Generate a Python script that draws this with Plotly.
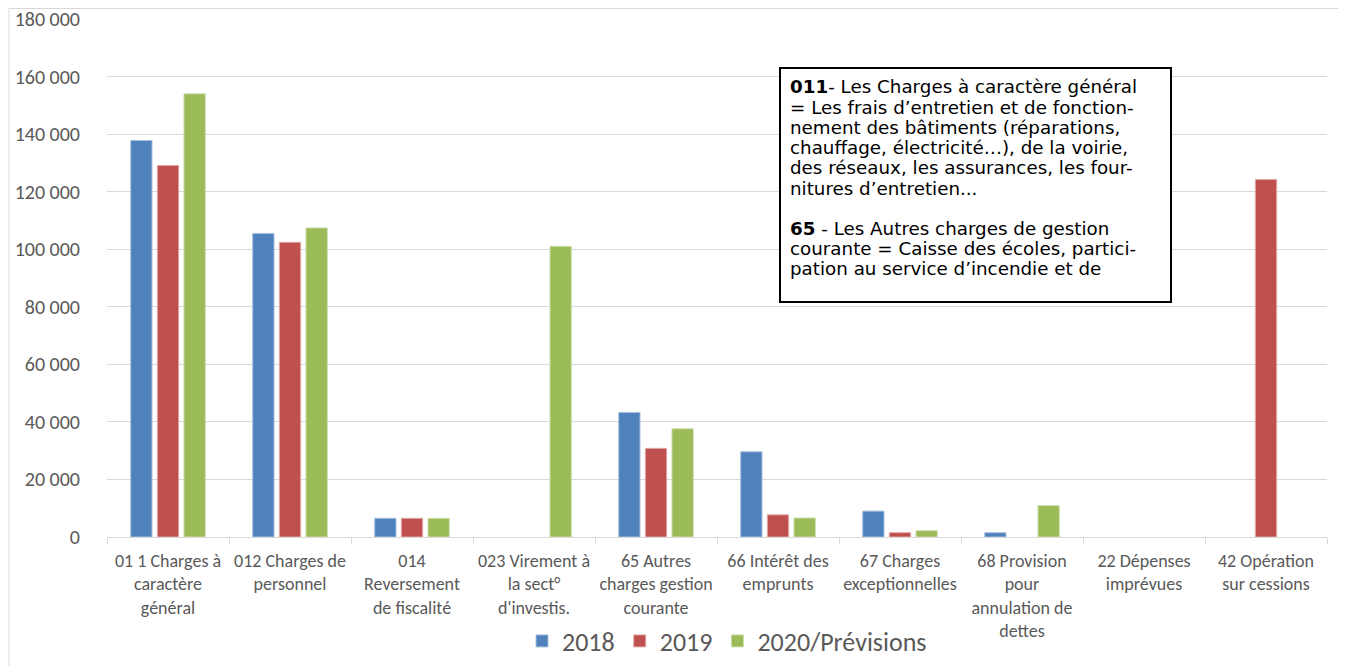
import plotly.graph_objects as go

categories = [
    "01 1 Charges à<br>caractère<br>général",
    "012 Charges de<br>personnel",
    "014<br>Reversement<br>de fiscalité",
    "023 Virement à<br>la sect°<br>d'investis.",
    "65 Autres<br>charges gestion<br>courante",
    "66 Intérêt des<br>emprunts",
    "67 Charges<br>exceptionnelles",
    "68 Provision<br>pour<br>annulation de<br>dettes",
    "22 Dépenses<br>imprévues",
    "42 Opération<br>sur cessions",
]
series_names = ["2018", "2019", "2020/Prévisions"]
values_2018 = [137800, 105500, 6500, None, 43300, 29600, 9000, 1500, None, None]
values_2019 = [129100, 102400, 6500, None, 30800, 7700, 1500, None, None, 124200]
values_2020 = [154000, 107400, 6500, 101000, 37600, 6600, 2200, 10900, None, None]
y_ticks = [0, 20000, 40000, 60000, 80000, 100000, 120000, 140000, 160000, 180000]

box_lines = [
    "<b>011</b>- Les Charges à caractère général",
    "= Les frais d’entretien et de fonction-",
    "nement des bâtiments (réparations,",
    "chauffage, électricité…), de la voirie,",
    "des réseaux, les assurances, les four-",
    "nitures d’entretien...",
    "",
    "<b>65</b> - Les Autres charges de gestion",
    "courante = Caisse des écoles, partici-",
    "pation au service d’incendie et de",
]

colors = ["#4F81BD", "#C0504D", "#9BBB59"]
edge_colors = ["#A7C0DE", "#E0A8A6", "#CDDDAC"]

# page is offset by the 8px body margin
OFF = 8
W, H = 1346 - OFF, 666 - OFF
L, R, T, B = 107 - OFF, 1327 - OFF, 19 - OFF, 537 - OFF
pw, ph = R - L, B - T


def px_x(x):
    return (x - OFF - L) / pw


def px_y(y):
    return (B - (y - OFF)) / ph


fig = go.Figure()
for name, vals, c, ec in zip(series_names, [values_2018, values_2019, values_2020], colors, edge_colors):
    fig.add_trace(go.Bar(
        name=name, x=categories, y=vals,
        marker=dict(color=c, line=dict(color=ec, width=1)),
    ))

axis_font = "Carlito, 'Liberation Sans Narrow', 'Open Sans', sans-serif"

annotations = []
for i, line in enumerate(box_lines):
    if not line:
        continue
    annotations.append(dict(
        text=line, xref="paper", yref="paper", x=px_x(788), y=px_y(87 + i * 20.2),
        xanchor="left", yanchor="middle", align="left", showarrow=False,
        font=dict(family="'DejaVu Sans', Verdana, sans-serif", size=18.3, color="black"),
    ))

fig.update_layout(
    width=W, height=H,
    margin=dict(l=L, r=W - R, t=T, b=H - B, autoexpand=False),
    paper_bgcolor="white", plot_bgcolor="white",
    barmode="group", bargap=0.345, bargroupgap=0.2,
    separators=", ",
    font=dict(family=axis_font, color="#595959", size=18),
    legend=dict(
        orientation="h", x=px_x(727), xanchor="center", y=px_y(641), yanchor="middle",
        font=dict(size=26, color="#595959", family=axis_font),
        itemwidth=30, traceorder="normal",
    ),
    xaxis=dict(
        type="category", showgrid=False, showline=True, linecolor="#D9D9D9", linewidth=1.3,
        ticks="outside", tickson="boundaries", ticklen=6, tickcolor="#D9D9D9",
        tickangle=0, ticklabeloverflow="allow", ticklabelstandoff=7,
        tickfont=dict(size=18, color="#595959", family=axis_font),
    ),
    yaxis=dict(
        range=[0, 180000], tickvals=y_ticks, tickformat=",d",
        showgrid=True, gridcolor="#D9D9D9", gridwidth=1.3,
        zeroline=False, showline=False, ticks="", ticklabelstandoff=26,
        ticklabeloverflow="allow",
        tickfont=dict(size=20, color="#595959", family=axis_font),
    ),
    shapes=[
        dict(type="rect", xref="paper", yref="paper",
             x0=px_x(9), x1=px_x(1345), y0=px_y(700), y1=px_y(8.5),
             line=dict(color="#D9D9D9", width=1), fillcolor="rgba(0,0,0,0)", layer="below"),
        dict(type="rect", xref="paper", yref="paper",
             x0=px_x(780), x1=px_x(1171), y0=px_y(302), y1=px_y(68),
             line=dict(color="black", width=2), fillcolor="white", layer="above"),
    ],
    annotations=annotations,
)

fig.write_html("out.html")
